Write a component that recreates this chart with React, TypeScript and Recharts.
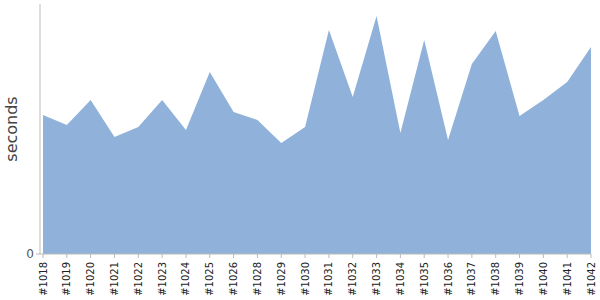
import React from 'react';
import { AreaChart, Area, XAxis, YAxis } from 'recharts';

const builds = ['#1018','#1019','#1020','#1021','#1022','#1023','#1024','#1025','#1026','#1028','#1029','#1030','#1031','#1032','#1033','#1034','#1035','#1036','#1037','#1038','#1039','#1040','#1041','#1042'];
const seconds = [139,129,154,117,127,154,124,182,142,134,111,127,224,157,238,121,214,114,190,223,138,154,172,207];
const yTicks = [0];
const yMax = 250;

const data = builds.map((b, i) => ({ build: b, seconds: seconds[i] }));

const FONT = '"DejaVu Sans", Verdana, sans-serif';

const XTick = (props: any) => {
  const { x, y, payload } = props;
  return (
    <g transform={`translate(${x},${y})`}>
      <text transform="rotate(-90)" textAnchor="end" dx={-2} dy={3.5} fontSize={10} fontFamily={FONT} fill="#222">
        {payload.value}
      </text>
    </g>
  );
};

const YLabel = (props: any) => {
  const vb = props.viewBox || { x: 0, y: 4, width: 40, height: 250 };
  const cx = vb.x + 17;
  const cy = vb.y + vb.height / 2;
  return (
    <text x={cx} y={cy} transform={`rotate(-90, ${cx}, ${cy})`} textAnchor="middle" fontSize={16} fontFamily={FONT} fill="#444">
      seconds
    </text>
  );
};

export default function App() {
  return (
    <div style={{ position: 'absolute', left: 0, top: 0, width: 600, height: 300 }}>
      <AreaChart width={600} height={300} data={data} margin={{ top: 4, right: 9, bottom: 0, left: 0 }}>
        <XAxis
          dataKey="build"
          interval={0}
          height={46}
          tickSize={4}
          padding={{ left: 3, right: 0 }}
          tick={<XTick />}
          axisLine={{ stroke: '#bbb' }}
          tickLine={{ stroke: '#bbb' }}
        />
        <YAxis
          width={40}
          domain={[0, yMax]}
          ticks={yTicks}
          tickSize={4}
          axisLine={{ stroke: '#bbb' }}
          tickLine={{ stroke: '#bbb' }}
          tick={{ fontSize: 12, fill: '#555', fontFamily: FONT }}
          label={<YLabel />}
        />
        <Area
          type="linear"
          dataKey="seconds"
          stroke="none"
          fill="#8fb1da"
          fillOpacity={1}
          isAnimationActive={false}
        />
      </AreaChart>
    </div>
  );
}
